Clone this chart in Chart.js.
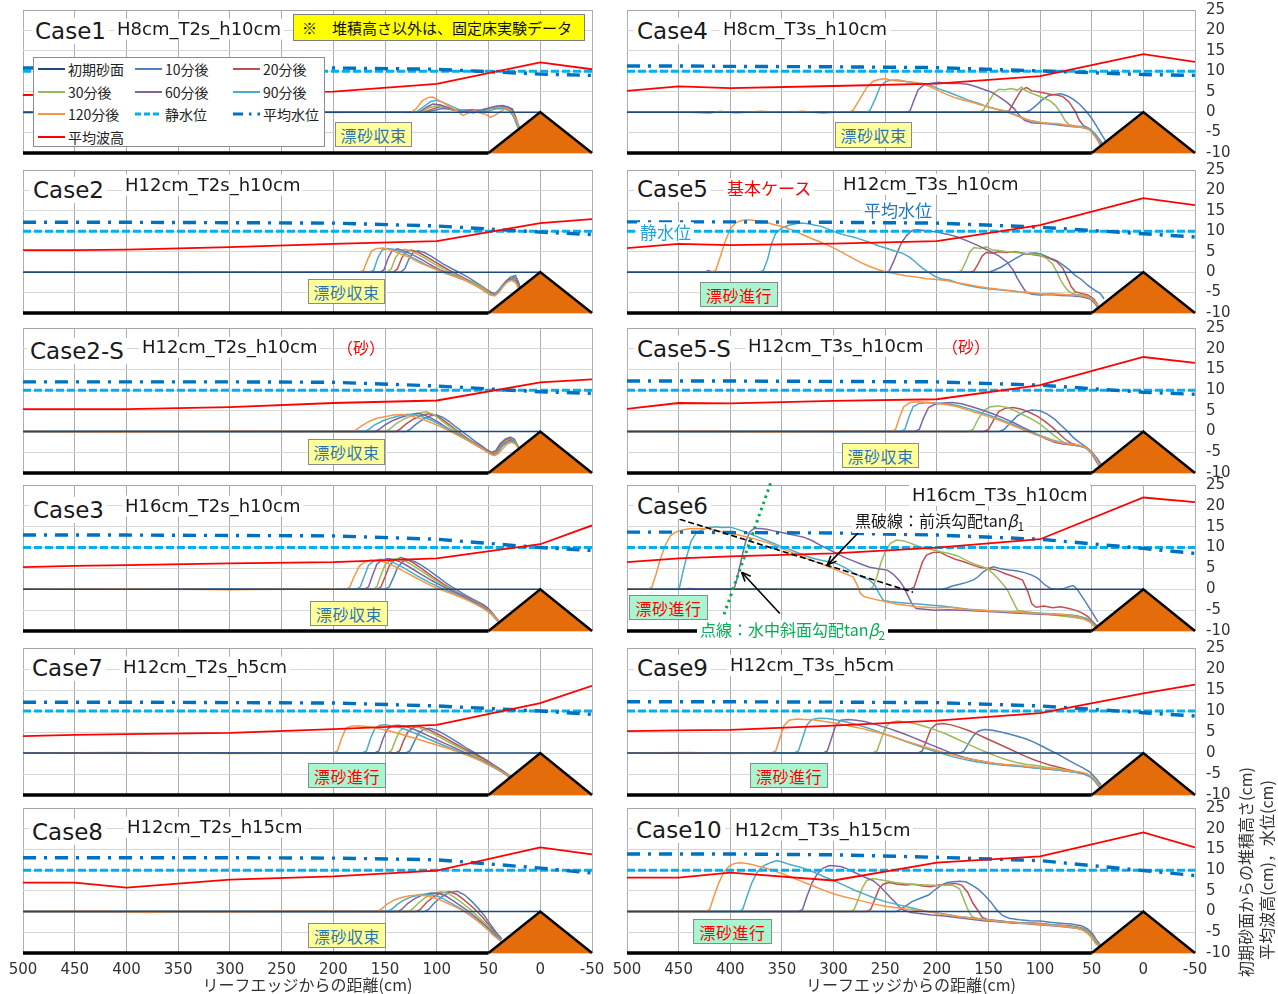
<!DOCTYPE html>
<html>
<head>
<meta charset="utf-8">
<script src="https://cdn.jsdelivr.net/npm/chart.js@4.4.1/dist/chart.umd.min.js"></script>
<style>
  body { margin:0; background:#fff; width:1278px; height:994px; position:relative; overflow:hidden;
         font-family:"DejaVu Sans","Noto Sans CJK JP",sans-serif; }
  canvas { position:absolute; }
  .t { position:absolute; white-space:nowrap; line-height:1.15; transform:translateY(-50%); color:#1a1a1a; }
  .bg { background:#fff; padding:0 3px; }
  .jp { font-family:"Noto Sans CJK JP",sans-serif; }
  .tag { position:absolute; box-sizing:border-box; border:1px solid #8a8a8a; font-family:"Noto Sans CJK JP",sans-serif;
         font-size:16px; display:flex; align-items:center; justify-content:center; letter-spacing:0.5px; }
  .conv { background:#FFFF99; color:#2E75B6; }
  .prog { background:#A9F5CF; color:#FF0000; }
  .legend { position:absolute; left:33px; top:57px; width:292px; height:90px; box-sizing:border-box;
            border:1px solid #8c8c8c; background:#fff; font-family:"Noto Sans CJK JP",sans-serif; font-size:14px; }
  .li { position:absolute; display:flex; align-items:center; transform:translateY(-50%); white-space:nowrap; color:#222; }
  .li svg { margin-right:3px; }
</style>
</head>
<body>
<script>
// ---- measurement stations along the flume (cm from reef edge) ----
const gaugeX = [500, 450, 400, 300, 200, 100, 0, -50];
const stillWater = 10;

// ---- structure ----
const initialSurface = [500, 0, 0, 0];
const fixedBed = [500, -10, 50, -10];
const reefStep = [50, -10, 0, 0, -50, -10];

// ---- series styling keys ----
const sandLabels = ['10分後', '20分後', '30分後', '60分後', '90分後', '120分後'];
const sandColors = ['#4F81BD', '#C0504D', '#9BBB59', '#8064A2', '#4BACC6', '#F79646'];

// ================= Case1 =================
const case1Wave = [4.2, 4.3, 4.5, 4.7, 5.0, 6.9, 12.2, 10.5];
const case1Mwl  = [10.8, 10.8, 10.8, 10.8, 10.8, 10.5, 9.3, 9.0];
const case1_10  = [500,0, 300,0, 110,0, 100,0.6, 95,0.9, 88,0.7, 80,0.4, 72,0.6, 65,0.2, 58,0.5, 50,0.8, 44,1.2, 38,1.4, 32,1.3, 27,0.8, 24,-1, 20,-4, 16,-6];
const case1_20  = [500,0, 112,0, 104,0.8, 96,1.4, 90,1.0, 84,0.6, 76,0.2, 68,0.5, 60,0.1, 52,0.6, 46,1.0, 40,0.9, 34,1.1, 28,0.6, 24,-1.5, 20,-4.2, 16,-6];
const case1_30  = [500,0, 115,0, 108,1.0, 100,1.6, 93,1.3, 86,0.7, 78,0.3, 70,0.6, 62,0.2, 55,0.7, 48,0.9, 41,1.3, 35,1.0, 29,0.4, 25,-1.5, 21,-4, 17,-6];
const case1_60  = [500,0, 117,0, 110,1.2, 104,2.0, 97,1.8, 90,1.2, 82,0.5, 74,0.2, 66,0.6, 58,0.4, 50,1.0, 42,1.5, 36,1.6, 31,1.2, 27,0, 23,-2.5, 19,-5];
const case1_90  = [500,0, 120,0, 112,1.5, 106,2.6, 100,2.9, 94,2.4, 87,1.6, 80,0.8, 73,0.2, 65,-0.2, 57,0.3, 50,0.2, 43,0.8, 36,0.9, 30,0.4, 26,-1, 22,-3.5, 18,-5.5];
const case1_120 = [500,-0.2, 440,0.1, 400,-0.2, 350,0.1, 300,-0.2, 250,0.1, 200,-0.1, 160,0.1, 125,-0.1, 120,0.8, 114,2.8, 108,3.6, 104,3.7, 98,2.9, 92,2.0, 86,1.1, 80,0.3, 75,-0.8, 70,-0.3, 64,0.3, 58,-0.2, 52,-0.6, 48,-1.3, 43,-0.6, 38,0.2, 33,1.0, 28,0.3, 24,-1.5, 20,-3.8, 16,-6];

// ================= Case4 =================
const case4Wave = [5.2, 6.3, 5.9, 6.4, 7.0, 8.8, 14.2, 12.3];
const case4Mwl  = [11.3, 11.3, 11.2, 11.1, 10.9, 10.1, 9.2, 9.0];
const case4_10  = [500,0, 115,0, 110,0.4, 104,1.6, 98,3.0, 92,4.0, 86,4.3, 80,4.5, 74,4.0, 68,3.2, 62,2.0, 56,0.4, 50,-1.5, 44,-4, 38,-6.5, 34,-8];
const case4_20  = [500,0, 135,0, 130,0.3, 124,3, 118,5.5, 113,6.0, 108,5.2, 102,5.0, 96,4.7, 90,4.4, 84,4.2, 78,3.8, 72,2.5, 66,0.2, 62,-2, 58,-3.3, 54,-3.8, 48,-5.2, 44,-7, 40,-9];
const case4_30  = [500,0, 160,0, 155,0.5, 150,2.5, 145,4.5, 140,5.6, 134,5.5, 128,5.8, 122,5.4, 118,6.1, 114,5.3, 108,4.6, 102,4.0, 96,3.4, 90,2.7, 85,1.6, 80,-0.2, 76,-2.0, 72,-3.1, 66,-3.4, 60,-3.6, 54,-3.9, 48,-5.2, 44,-6.8, 40,-8.5];
const case4_60  = [500,0, 230,0, 226,0.3, 222,3, 218,5.5, 212,6.8, 205,7.1, 198,7.3, 190,7.0, 180,7.1, 170,6.8, 162,6.2, 155,5.6, 148,5.0, 140,3.8, 132,2.4, 125,0.8, 120,-0.8, 115,-2.0, 108,-2.6, 100,-2.7, 90,-2.9, 80,-3.2, 70,-3.5, 60,-3.7, 52,-4.2, 46,-6, 40,-8];
const case4_90  = [500,0, 270,0, 265,0.3, 260,3, 255,6.2, 250,7.4, 245,7.8, 238,7.7, 230,7.5, 222,7.2, 214,7.0, 206,6.6, 198,5.7, 190,5.0, 180,4.0, 170,3.0, 160,2.2, 150,1.2, 140,0.6, 132,0.2, 124,-0.6, 116,-1.6, 108,-2.2, 100,-2.6, 90,-2.8, 80,-3.0, 70,-3.4, 60,-3.6, 52,-4.0, 46,-5.5, 40,-7.5, 36,-9];
const case4_120 = [500,0, 440,0, 420,-0.3, 410,0.2, 395,-0.2, 370,0.2, 350,-0.1, 330,0.2, 310,-0.3, 295,0.1, 285,0, 281,0.5, 275,3, 268,6, 262,7.5, 256,8.0, 250,8.2, 245,7.8, 238,7.9, 230,7.5, 222,7.3, 214,6.9, 206,6.2, 198,5.2, 190,4.3, 182,3.5, 174,2.9, 166,2.4, 158,1.8, 150,1.3, 142,0.7, 134,0.2, 126,-0.6, 118,-1.3, 110,-2.0, 100,-2.5, 92,-2.7, 84,-2.8, 76,-3.1, 68,-3.5, 58,-3.8, 52,-4.4, 46,-6.2, 42,-7.8, 38,-9];

// ================= Case2 =================
const case2Wave = [5.4, 5.4, 5.5, 6.1, 6.9, 7.6, 12.0, 13.0];
const case2Mwl  = [12.2, 12.2, 12.2, 12.1, 12.0, 11.3, 9.8, 9.2];
const case2_10  = [500,0, 135,0, 131,0.8, 127,3.2, 123,4.8, 118,5.2, 112,4.8, 106,4.0, 100,3.0, 94,2.0, 88,1.2, 82,0.4, 76,-0.4, 70,-1.2, 64,-2.2, 58,-3.2, 52,-4.2, 47,-5.0, 43,-5.2, 39,-4.0, 34,-2.4, 29,-1.2, 24,-0.8, 21,-2.5, 18,-5];
const case2_20  = [500,0, 142,0, 138,0.8, 134,3.4, 130,5.0, 125,5.4, 119,5.0, 113,4.2, 107,3.3, 101,2.4, 95,1.5, 89,0.6, 83,-0.2, 77,-1.0, 71,-1.8, 65,-2.5, 59,-3.3, 53,-4.2, 48,-5.0, 44,-5.4, 40,-4.6, 35,-3.0, 30,-1.8, 25,-1.3, 21,-3, 18,-5];
const case2_30  = [500,0, 148,0, 144,0.8, 140,3.5, 136,5.0, 131,5.6, 125,5.2, 119,4.4, 113,3.6, 107,2.7, 101,1.8, 95,1.0, 89,0.2, 83,-0.6, 77,-1.2, 71,-2.0, 65,-2.6, 59,-3.3, 53,-4.3, 48,-5.3, 44,-5.5, 40,-4.5, 35,-3.0, 30,-2.0, 25,-1.6, 21,-3.5, 18,-5.5];
const case2_60  = [500,0, 155,0, 151,0.6, 147,3.5, 143,5.3, 138,5.7, 132,5.2, 126,4.6, 120,3.8, 114,3.0, 108,2.1, 102,1.2, 96,0.5, 90,-0.2, 84,-0.8, 78,-1.5, 72,-2.0, 66,-2.8, 60,-3.6, 54,-4.5, 49,-5.4, 45,-5.6, 41,-4.8, 37,-3.4, 32,-2.0, 27,-1.6, 23,-2.4, 20,-4.5];
const case2_90  = [500,0, 165,0, 161,0.5, 157,3.5, 153,5.4, 148,5.8, 142,5.6, 136,5.1, 130,4.5, 124,3.6, 118,2.9, 112,2.0, 106,1.3, 100,0.6, 94,0, 88,-0.5, 82,-1.0, 76,-1.6, 70,-2.2, 64,-3.0, 58,-3.9, 53,-4.8, 48,-5.4, 44,-5.3, 40,-4.4, 36,-3.2, 31,-2.2, 26,-1.8, 22,-3, 19,-5];
const case2_120 = [500,0, 420,0.1, 350,-0.1, 250,0.1, 175,0, 171,0.4, 167,3, 163,5.2, 158,5.8, 152,5.9, 146,5.5, 140,5.0, 134,4.3, 128,3.8, 122,3.0, 116,2.2, 110,1.6, 104,1.0, 98,0.4, 92,-0.3, 86,-0.8, 80,-1.3, 74,-1.8, 68,-2.6, 62,-3.4, 56,-4.2, 52,-5.0, 48,-5.6, 44,-5.8, 40,-5.0, 36,-3.6, 32,-2.5, 28,-2.0, 24,-2.5, 21,-4, 18,-6];

// ================= Case5 =================
const case5Wave = [5.9, 6.9, 6.6, 7.0, 7.6, 11.5, 18.1, 16.4];
const case5Mwl  = [12.3, 12.3, 12.3, 12.2, 12.0, 11.0, 9.4, 8.6];
const case5_10  = [500,0, 150,0, 145,0.4, 138,1.2, 130,2.4, 122,3.6, 116,4.4, 110,4.6, 104,4.7, 98,4.3, 90,3.4, 84,2.8, 78,1.8, 72,0.6, 66,-0.8, 60,-1.8, 54,-3.2, 48,-4.3, 42,-5.2, 38,-6.5];
const case5_20  = [500,0, 168,0, 164,0.3, 160,2.0, 156,4.0, 152,4.8, 146,4.6, 140,5.0, 132,4.8, 124,5.0, 116,4.6, 108,4.3, 100,4.0, 92,3.5, 84,2.6, 78,1.0, 74,-1.2, 70,-3.5, 66,-4.8, 60,-5.2, 54,-5.6, 48,-6.5, 44,-8];
const case5_30  = [500,0, 180,0, 176,0.4, 172,2.5, 168,5.0, 164,6.0, 158,5.8, 152,6.2, 146,5.4, 140,5.3, 132,5.0, 124,4.8, 116,4.6, 108,4.4, 100,4.2, 94,3.4, 88,2.0, 84,0.2, 80,-2.0, 76,-3.6, 72,-4.8, 66,-5.4, 60,-5.6, 54,-6.0, 48,-7.0, 44,-8.5];
const case5_60  = [500,0, 425,0, 421,0.4, 417,0, 300,0.1, 250,0, 246,0.3, 242,2.5, 238,5, 234,7.3, 229,9.0, 224,10.2, 218,10.4, 210,10.1, 200,9.8, 190,9.3, 180,8.6, 170,7.6, 160,6.5, 150,5.3, 140,4.0, 132,2.5, 126,0.5, 122,-1.5, 118,-3.2, 114,-4.8, 108,-5.4, 100,-5.6, 90,-5.5, 80,-5.7, 70,-5.8, 60,-6.0, 52,-6.5, 47,-7.6, 43,-9];
const case5_90  = [500,0, 372,0, 368,0.4, 364,3, 360,7, 356,9.5, 350,10.8, 344,11.4, 338,11.8, 332,12.0, 326,11.9, 320,11.6, 312,11.2, 304,10.4, 296,9.6, 288,9.0, 281,8.6, 272,7.9, 264,7.2, 256,6.4, 248,5.8, 240,5.1, 233,4.6, 226,3.6, 220,2.3, 214,1.0, 208,0, 202,-1.0, 195,-1.7, 187,-2.0, 178,-2.8, 168,-3.4, 158,-3.8, 148,-4.1, 138,-4.4, 128,-4.6, 118,-4.9, 108,-5.2, 98,-5.4, 88,-5.3, 78,-5.6, 68,-5.6, 58,-5.9, 50,-6.5, 46,-7.5, 42,-9];
const case5_120 = [500,0, 430,0, 418,0, 414,0.5, 410,3.5, 405,7.5, 400,10.5, 395,12.0, 390,12.6, 384,12.8, 378,12.7, 372,12.5, 366,12.3, 360,11.8, 352,11.3, 345,10.8, 338,10.1, 330,9.2, 322,8.3, 314,7.5, 306,6.6, 298,5.7, 290,4.6, 282,3.5, 274,2.4, 266,1.5, 258,0.7, 250,0.1, 240,-0.4, 230,-0.9, 220,-1.2, 210,-1.6, 200,-1.8, 190,-2.1, 180,-2.6, 170,-3.0, 160,-3.5, 150,-3.9, 140,-4.2, 130,-4.5, 120,-4.8, 110,-5.0, 100,-5.3, 90,-5.5, 80,-5.4, 70,-5.6, 60,-5.7, 52,-6.2, 48,-7.0, 44,-8.2, 40,-9.5];

// ================= Case2-S =================
const case2sWave = [5.4, 5.4, 5.4, 5.9, 6.9, 7.5, 11.9, 12.6];
const case2sMwl  = [12.0, 12.0, 12.0, 12.0, 11.9, 11.0, 9.6, 9.2];
const case2s_10  = [500,0, 130,0, 126,0.5, 120,1.8, 113,3.0, 106,3.8, 100,4.0, 94,3.4, 88,2.4, 82,1.2, 76,0.1, 70,-1.0, 64,-2.2, 58,-3.2, 52,-4.3, 47,-5.0, 43,-4.6, 39,-3.0, 34,-1.8, 29,-1.3, 25,-1.8, 21,-3.8];
const case2s_20  = [500,0, 140,0, 136,0.5, 130,1.8, 122,3.1, 114,4.0, 107,4.3, 100,3.8, 94,2.8, 88,1.7, 82,0.5, 76,-0.6, 70,-1.7, 64,-2.7, 58,-3.6, 52,-4.6, 47,-5.2, 43,-4.9, 39,-3.4, 34,-2.1, 29,-1.6, 25,-2.2, 21,-4];
const case2s_30  = [500,0, 150,0, 146,0.5, 140,1.8, 132,3.0, 124,3.8, 117,4.5, 110,4.8, 104,4.2, 98,3.2, 92,2.0, 86,0.9, 80,-0.2, 74,-1.3, 68,-2.2, 62,-3.2, 56,-4.1, 50,-5.0, 46,-5.4, 42,-5.0, 38,-3.6, 33,-2.3, 28,-1.8, 24,-2.4, 20,-4.2];
const case2s_60  = [500,0, 160,0, 156,0.5, 150,1.6, 143,2.6, 135,3.4, 127,4.0, 119,4.4, 112,4.0, 105,3.2, 98,2.2, 92,1.2, 86,0.3, 80,-0.6, 74,-1.5, 68,-2.4, 62,-3.3, 56,-4.2, 50,-5.1, 46,-5.6, 42,-5.2, 38,-3.8, 33,-2.6, 28,-2.0, 24,-2.6, 20,-4.3];
const case2s_90  = [500,0, 170,0, 166,0.5, 160,1.6, 152,2.6, 144,3.3, 136,3.8, 128,4.2, 120,4.0, 112,3.4, 104,2.6, 97,1.7, 90,0.8, 84,0, 78,-0.8, 72,-1.7, 66,-2.6, 60,-3.5, 54,-4.4, 49,-5.3, 45,-5.6, 41,-5.0, 37,-3.6, 32,-2.6, 27,-2.3, 23,-3.0, 20,-4.5];
const case2s_120 = [500,0, 400,-0.1, 300,0.1, 200,0, 182,0, 178,0.4, 172,1.5, 165,2.5, 158,3.2, 150,3.6, 142,4.0, 134,4.1, 126,3.8, 118,3.3, 110,2.6, 102,1.8, 95,1.0, 88,0.2, 82,-0.6, 76,-1.4, 70,-2.2, 64,-3.0, 58,-3.8, 52,-4.8, 48,-5.5, 44,-5.8, 40,-5.2, 36,-4.0, 32,-3.0, 28,-2.6, 24,-3.0, 20,-4.5];

// ================= Case5-S =================
const case5sWave = [5.5, 6.9, 6.8, 7.4, 7.8, 11.2, 18.0, 16.6];
const case5sMwl  = [12.2, 12.2, 12.2, 12.1, 12.0, 11.2, 9.5, 9.0];
const case5s_10  = [500,0, 140,0, 135,0.5, 129,2.0, 122,3.8, 115,4.8, 108,5.2, 100,5.0, 93,4.2, 86,3.0, 80,1.6, 74,0.2, 68,-1.4, 62,-2.6, 56,-3.6, 50,-4.8, 45,-6.4, 40,-8.2];
const case5s_20  = [500,0, 155,0, 150,0.5, 145,2.8, 140,4.8, 134,5.6, 126,5.8, 118,5.4, 110,4.6, 102,3.6, 95,2.4, 88,1.0, 82,-0.4, 76,-1.8, 70,-2.8, 63,-3.3, 56,-3.8, 50,-5.0, 46,-6.6, 42,-8.4];
const case5s_30  = [500,0, 170,0, 165,0.5, 160,3.0, 154,5.2, 148,6.0, 140,6.2, 132,5.8, 124,5.0, 116,4.0, 108,3.0, 100,1.8, 94,0.6, 88,-0.6, 82,-1.8, 76,-2.8, 70,-3.2, 62,-3.4, 55,-4.0, 50,-5.2, 46,-6.8, 42,-8.5];
const case5s_60  = [500,0, 222,0, 217,0.5, 213,3.2, 208,5.8, 202,6.6, 194,6.9, 185,7.0, 176,6.7, 166,6.0, 156,5.2, 146,4.3, 136,3.3, 126,2.2, 118,1.2, 110,0.2, 102,-0.8, 94,-1.8, 86,-2.6, 78,-3.0, 70,-3.2, 62,-3.5, 55,-4.0, 50,-5.3, 46,-7, 42,-8.6];
const case5s_90  = [500,0, 236,0, 231,0.5, 227,3.5, 223,6.0, 217,6.8, 209,7.0, 200,6.9, 190,6.7, 180,6.3, 170,5.6, 160,4.8, 150,4.0, 140,3.1, 130,2.1, 120,1.1, 112,0.2, 104,-0.6, 96,-1.3, 88,-2.0, 80,-2.6, 72,-2.9, 64,-3.3, 56,-3.9, 50,-5.2, 46,-6.8, 42,-8.5];
const case5s_120 = [500,0, 420,0.1, 360,-0.1, 300,0.1, 245,0, 240,0.5, 236,3.5, 232,6.0, 226,7.0, 218,7.2, 210,7.0, 200,6.8, 190,6.5, 180,6.0, 170,5.2, 160,4.4, 150,3.6, 140,2.8, 130,1.8, 120,0.8, 112,0, 104,-0.8, 96,-1.5, 88,-2.2, 80,-2.7, 72,-3.0, 64,-3.2, 56,-3.8, 50,-5.0, 46,-6.5, 42,-8.2];

// ================= Case3 =================
const case3Wave = [5.3, 5.6, 5.8, 6.2, 6.5, 7.4, 10.8, 15.3];
const case3Mwl  = [13.0, 13.0, 13.0, 12.9, 12.8, 12.0, 10.0, 9.3];
const case3_10  = [500,0, 150,0, 146,0.6, 142,2.8, 138,5.2, 133,6.6, 127,7.0, 121,6.6, 115,5.8, 109,4.8, 103,3.7, 97,2.6, 91,1.5, 85,0.5, 79,-0.4, 73,-1.3, 67,-2.1, 61,-2.9, 55,-3.7, 50,-4.6, 46,-5.8, 42,-7, 38,-8.4];
const case3_20  = [500,0, 158,0, 154,0.6, 150,3.0, 146,5.6, 141,7.0, 135,7.6, 129,7.2, 123,6.4, 117,5.4, 111,4.3, 105,3.2, 99,2.2, 93,1.2, 87,0.3, 81,-0.6, 75,-1.4, 69,-2.2, 63,-3.0, 57,-3.8, 51,-4.6, 47,-5.6, 43,-6.8, 39,-8];
const case3_30  = [500,0, 162,0, 158,0.6, 154,3.4, 150,5.9, 145,7.0, 139,7.4, 133,7.0, 127,6.3, 121,5.4, 115,4.4, 109,3.4, 103,2.4, 97,1.5, 91,0.6, 85,-0.2, 79,-1.0, 73,-1.8, 67,-2.6, 61,-3.4, 55,-4.2, 50,-5.0, 46,-6, 42,-7.2, 38,-8.4];
const case3_60  = [500,0, 170,0, 166,0.6, 162,3.4, 158,6.0, 153,7.0, 147,7.4, 141,7.1, 135,6.5, 129,5.7, 123,4.8, 117,3.9, 111,3.0, 105,2.1, 99,1.3, 93,0.5, 87,-0.2, 81,-0.9, 75,-1.6, 69,-2.4, 63,-3.2, 57,-4.1, 51,-5.0, 47,-5.9, 43,-7, 39,-8.2];
const case3_90  = [500,0, 178,0, 174,0.6, 170,3.2, 166,5.8, 161,6.8, 155,7.2, 149,7.0, 143,6.5, 137,5.8, 131,5.0, 125,4.1, 119,3.2, 113,2.4, 107,1.6, 101,0.9, 95,0.2, 89,-0.4, 83,-1.0, 77,-1.7, 71,-2.4, 65,-3.2, 59,-4.0, 53,-4.9, 48,-5.8, 44,-6.8, 40,-8];
const case3_120 = [500,0, 400,0.1, 300,-0.1, 200,0.1, 188,0, 184,0.6, 180,3.0, 175,5.5, 170,6.5, 164,7.0, 158,6.9, 152,6.6, 146,6.1, 140,5.4, 134,4.6, 128,3.8, 122,3.0, 116,2.2, 110,1.4, 104,0.7, 98,0.1, 92,-0.5, 86,-1.0, 80,-1.6, 74,-2.2, 68,-2.9, 62,-3.6, 56,-4.4, 50,-5.4, 46,-6.2, 42,-7.2, 38,-8.2];

// ================= Case6 =================
const case6Wave = [6.5, 7.4, 7.9, 8.6, 10.0, 12.0, 22.0, 20.9];
const case6Mwl  = [13.7, 13.7, 13.6, 13.5, 13.0, 12.0, 9.8, 8.6];
const case6_10  = [500,0, 195,0, 190,0.3, 185,0.8, 178,1.2, 172,1.6, 165,2.2, 160,3.0, 155,4.2, 150,5.0, 145,5.4, 138,4.9, 130,4.6, 122,4.4, 115,4.0, 108,3.4, 102,2.6, 96,1.2, 90,0.2, 84,0.0, 78,0.1, 72,0.6, 68,0.9, 64,0.0, 60,-1.5, 56,-3.0, 52,-4.6, 48,-6.2, 44,-7.8];
const case6_20  = [500,0, 226,0, 222,0.5, 218,3.5, 214,6.5, 210,8.2, 204,8.8, 197,8.9, 190,8.0, 182,7.2, 174,6.6, 165,5.8, 158,5.2, 150,5.0, 142,4.6, 134,3.8, 125,3.0, 117,2.2, 112,-0.5, 108,-3.5, 104,-4.3, 96,-4.0, 88,-4.4, 80,-4.2, 72,-4.6, 66,-5.0, 60,-5.6, 54,-6.5, 48,-8, 44,-9];
const case6_30  = [500,0, 266,0, 262,0.5, 258,3.0, 254,6.5, 250,9.0, 245,11.0, 239,11.8, 232,11.6, 225,11.0, 218,10.3, 210,9.8, 203,9.4, 196,9.0, 188,8.6, 180,8.0, 172,7.0, 165,6.2, 158,5.6, 150,4.8, 142,2.9, 136,1.2, 132,0, 128,-2.0, 122,-5.0, 115,-5.3, 105,-5.6, 95,-5.9, 85,-6.2, 75,-6.5, 65,-6.8, 57,-7.2, 52,-7.8, 47,-9];
const case6_60  = [500,0, 450,0, 440,0.2, 420,0, 400,0.1, 396,0.4, 393,3.0, 389,7.5, 385,11.5, 381,13.8, 377,14.6, 371,14.6, 365,14.4, 358,14.0, 350,13.6, 342,13.2, 335,12.8, 329,12.5, 321,11.7, 313,10.6, 305,9.6, 297,8.6, 289,7.6, 281,6.8, 273,6.0, 265,5.3, 257,4.9, 248,4.6, 242,3.6, 236,2.0, 232,0.5, 228,-1.5, 224,-3.5, 220,-4.6, 212,-4.8, 202,-5.0, 190,-4.9, 175,-5.0, 160,-5.2, 145,-5.4, 130,-5.6, 115,-5.8, 100,-6.0, 85,-6.1, 70,-6.3, 58,-6.8, 50,-7.8, 46,-9];
const case6_90  = [500,0, 452,0, 449,0.6, 446,4.0, 442,8.0, 438,11.5, 433,13.5, 427,14.3, 420,14.8, 414,15.0, 408,14.8, 400,14.9, 392,14.3, 384,13.6, 376,12.8, 368,12.0, 360,11.2, 352,10.4, 345,9.8, 337,9.0, 329,8.2, 321,7.5, 313,7.0, 305,6.6, 297,6.2, 289,5.2, 281,4.0, 273,3.0, 265,2.2, 260,1.0, 256,-1.0, 252,-2.6, 245,-3.0, 235,-3.2, 225,-3.4, 215,-3.6, 205,-3.8, 195,-4.0, 185,-4.3, 170,-4.8, 155,-5.0, 140,-5.3, 125,-5.4, 110,-5.6, 95,-5.8, 80,-6.0, 65,-6.3, 55,-7.0, 48,-8.2, 44,-9.2];
const case6_120 = [500,0, 480,0, 476,0.5, 472,3.5, 468,7.0, 463,10.5, 458,12.8, 452,13.8, 446,14.2, 440,14.5, 434,14.6, 428,14.5, 423,14.7, 416,14.2, 408,13.8, 400,13.4, 392,13.0, 385,12.6, 378,12.2, 370,11.6, 362,11.0, 354,10.2, 346,9.4, 338,8.6, 330,7.8, 322,7.0, 313,6.2, 305,5.4, 297,4.6, 289,3.8, 281,2.9, 277,1.0, 274,-1.0, 270,-1.8, 262,-2.3, 255,-2.7, 249,-3.0, 240,-3.5, 230,-3.8, 220,-4.2, 210,-4.3, 200,-4.4, 187,-4.3, 175,-4.7, 160,-5.0, 145,-5.2, 130,-5.4, 115,-5.6, 100,-5.8, 85,-6.0, 70,-6.2, 60,-6.8, 52,-7.8, 46,-9];

// ================= Case7 =================
const case7Wave = [4.0, 4.3, 4.5, 4.8, 5.7, 6.7, 11.9, 16.0];
const case7Mwl  = [12.1, 12.1, 12.1, 12.0, 11.9, 11.2, 10.0, 9.2];
const case7_10  = [500,0, 130,0, 126,0.5, 122,2.6, 118,4.6, 113,5.6, 107,5.9, 100,5.4, 93,4.5, 86,3.5, 79,2.4, 72,1.3, 65,0.3, 58,-0.8, 51,-1.8, 45,-2.8, 39,-3.8, 33,-4.8, 28,-5.6];
const case7_20  = [500,0, 140,0, 136,0.5, 132,3.0, 128,5.0, 123,6.0, 117,6.3, 110,5.8, 103,5.0, 96,4.1, 89,3.2, 82,2.2, 75,1.2, 68,0.3, 61,-0.6, 54,-1.6, 48,-2.6, 42,-3.6, 36,-4.6, 31,-5.5];
const case7_30  = [500,0, 148,0, 144,0.5, 140,3.0, 136,5.2, 131,6.2, 125,6.5, 118,6.1, 111,5.4, 104,4.6, 97,3.7, 90,2.8, 83,1.9, 76,1.0, 69,0.1, 62,-0.8, 55,-1.7, 49,-2.6, 43,-3.5, 37,-4.5, 32,-5.4, 28,-6];
const case7_60  = [500,0, 160,0, 156,0.5, 152,3.4, 148,5.6, 143,6.5, 137,6.6, 130,6.3, 123,5.7, 116,5.0, 109,4.2, 102,3.4, 95,2.6, 88,1.8, 81,1.0, 74,0.2, 67,-0.6, 60,-1.4, 53,-2.2, 47,-3.0, 41,-3.9, 35,-4.8, 30,-5.6];
const case7_90  = [500,0, 172,0, 168,0.5, 164,3.5, 160,5.8, 155,6.6, 149,6.7, 142,6.4, 135,6.0, 128,5.4, 121,4.7, 114,4.0, 107,3.2, 100,2.5, 93,1.8, 86,1.1, 79,0.4, 72,-0.3, 65,-1.0, 58,-1.8, 51,-2.7, 45,-3.5, 39,-4.3, 33,-5.1, 28,-5.8];
const case7_120 = [500,0, 400,0.1, 300,-0.1, 200,0, 196,0.5, 192,3.5, 188,5.8, 183,6.4, 176,6.5, 168,6.3, 160,6.0, 152,5.6, 144,5.1, 136,4.6, 128,4.0, 120,3.4, 112,2.8, 104,2.2, 96,1.6, 88,1.0, 80,0.3, 72,-0.4, 64,-1.2, 56,-2.0, 48,-3.0, 42,-3.8, 36,-4.6, 30,-5.4, 26,-6];

// ================= Case9 =================
const case9Wave = [5.2, 5.4, 5.5, 6.5, 7.7, 9.5, 14.2, 16.3];
const case9Mwl  = [12.2, 12.2, 12.2, 12.1, 12.0, 11.2, 9.6, 8.8];
const case9_10  = [500,0, 178,0, 174,0.4, 170,2.0, 165,4.0, 160,5.2, 154,5.6, 146,5.4, 138,5.0, 130,4.5, 122,4.0, 114,3.4, 106,2.6, 98,1.6, 90,0.6, 82,-0.4, 74,-1.5, 66,-2.6, 58,-3.6, 52,-4.5, 46,-6, 41,-7.6];
const case9_20  = [500,0, 218,0, 214,0.5, 210,3.0, 206,5.6, 201,6.8, 194,7.0, 186,6.7, 178,6.1, 170,5.4, 162,4.6, 154,3.7, 146,2.8, 138,1.9, 130,1.0, 122,0.1, 114,-0.8, 106,-1.6, 98,-2.3, 90,-2.9, 82,-3.4, 74,-3.9, 66,-4.4, 58,-4.9, 52,-5.5, 47,-6.6, 43,-8];
const case9_30  = [500,0, 262,0, 258,0.5, 254,3.2, 250,6.0, 245,7.3, 238,7.6, 230,7.4, 222,7.0, 214,6.5, 206,5.9, 198,5.2, 190,4.4, 182,3.5, 174,2.6, 166,1.7, 158,0.8, 150,0, 142,-0.8, 134,-1.5, 124,-2.2, 114,-2.7, 104,-3.0, 94,-3.4, 84,-3.7, 74,-4.1, 64,-4.5, 56,-5.0, 50,-5.8, 45,-7, 41,-8.4];
const case9_60  = [500,0, 310,0, 306,0.5, 302,3.5, 298,6.5, 293,7.8, 286,8.0, 278,7.8, 270,7.5, 262,7.0, 254,6.4, 246,5.8, 238,5.1, 230,4.4, 222,3.6, 214,2.8, 206,2.0, 198,1.2, 190,0.4, 182,-0.4, 174,-1.0, 164,-1.6, 154,-2.1, 144,-2.5, 134,-2.8, 124,-3.0, 114,-3.3, 104,-3.5, 94,-3.8, 84,-4.0, 74,-4.3, 64,-4.6, 56,-5.0, 50,-5.8, 45,-7, 41,-8.4];
const case9_90  = [500,0, 338,0, 334,0.5, 330,3.5, 326,6.6, 321,8.0, 314,8.3, 306,8.2, 298,7.9, 290,7.5, 282,7.0, 274,6.5, 266,5.9, 258,5.2, 250,4.5, 242,3.8, 234,3.1, 226,2.4, 218,1.7, 210,1.0, 202,0.4, 194,-0.2, 186,-0.8, 176,-1.4, 166,-1.9, 156,-2.3, 146,-2.6, 136,-2.9, 126,-3.1, 116,-3.3, 106,-3.6, 96,-3.8, 86,-4.0, 76,-4.3, 66,-4.6, 58,-5.0, 52,-5.6, 47,-6.6, 43,-8];
const case9_120 = [500,0, 440,0.1, 400,-0.1, 360,0, 356,0.5, 352,3.5, 348,6.5, 343,7.8, 336,8.1, 328,8.0, 320,7.9, 312,7.6, 304,7.3, 296,7.0, 288,6.6, 280,6.2, 272,5.8, 264,5.3, 256,4.8, 248,4.3, 240,3.7, 232,3.0, 224,2.4, 216,1.8, 208,1.2, 200,0.6, 192,0, 184,-0.5, 176,-1.0, 168,-1.4, 160,-1.8, 150,-2.2, 140,-2.6, 130,-2.8, 120,-3.0, 110,-3.3, 100,-3.5, 90,-3.7, 80,-4.0, 70,-4.3, 60,-4.6, 54,-5.0, 48,-6, 44,-7.2, 40,-8.5];

// ================= Case8 =================
const case8Wave = [7.0, 7.0, 5.8, 7.7, 8.5, 9.9, 15.5, 13.8];
const case8Mwl  = [13.0, 13.0, 13.0, 13.0, 12.9, 12.5, 10.5, 9.3];
const case8_10  = [500,0, 112,0, 108,0.5, 102,2.2, 95,3.6, 88,4.6, 80,4.9, 73,4.0, 66,2.4, 60,0.8, 54,-1.0, 49,-2.8, 45,-4.2, 41,-5.5, 37,-6.6];
const case8_20  = [500,0, 120,0, 116,0.5, 110,2.2, 103,3.6, 96,4.5, 88,4.8, 81,4.2, 74,2.9, 67,1.4, 61,0, 55,-1.6, 50,-3.1, 46,-4.4, 42,-5.6, 38,-6.8];
const case8_30  = [500,0, 128,0, 124,0.5, 118,2.0, 111,3.4, 104,4.3, 96,4.8, 89,4.4, 82,3.3, 75,2.0, 68,0.6, 62,-0.8, 56,-2.2, 50,-3.6, 46,-4.8, 42,-5.8, 38,-6.8];
const case8_60  = [500,0, 138,0, 134,0.5, 128,2.0, 121,3.2, 114,4.0, 106,4.5, 98,4.4, 91,3.7, 84,2.6, 77,1.4, 70,0.2, 64,-1.0, 58,-2.3, 52,-3.6, 47,-4.8, 43,-5.8, 39,-6.8];
const case8_90  = [500,0, 148,0, 144,0.5, 138,1.8, 131,2.9, 124,3.6, 116,4.1, 108,4.2, 100,3.8, 93,3.0, 86,2.0, 79,1.0, 72,0, 66,-1.1, 60,-2.3, 54,-3.5, 49,-4.6, 45,-5.6, 41,-6.4, 37,-7.4];
const case8_120 = [500,0, 420,0.1, 380,-0.2, 340,0.1, 300,-0.1, 250,0.1, 200,0.1, 158,0, 154,0.5, 148,1.8, 141,2.8, 134,3.4, 126,3.8, 118,4.0, 110,3.8, 102,3.3, 95,2.6, 88,1.8, 81,1.0, 74,0.1, 68,-0.9, 62,-2.0, 56,-3.2, 51,-4.4, 47,-5.4, 43,-6.2, 39,-7];

// ================= Case10 =================
const case10Wave = [8.2, 8.2, 9.4, 7.5, 11.8, 13.3, 19.1, 15.5];
const case10Mwl  = [13.9, 13.9, 13.9, 13.7, 13.1, 12.3, 9.9, 8.7];
const case10_10  = [500,0, 240,0, 236,0.4, 230,1.4, 224,2.4, 216,3.2, 208,4.0, 202,5.2, 196,6.3, 190,7.0, 184,7.2, 178,7.3, 172,7.2, 166,6.4, 160,5.4, 154,4.0, 148,2.4, 142,0.4, 136,-1.0, 130,-1.6, 120,-2.0, 110,-2.2, 100,-2.3, 90,-2.6, 80,-2.8, 70,-3.0, 60,-3.4, 54,-4.2, 49,-5.4, 45,-7.0, 41,-8.2];
const case10_20  = [500,0, 268,0, 264,0.5, 260,3.0, 256,5.5, 252,6.6, 246,7.0, 238,6.6, 230,6.4, 222,6.6, 214,6.2, 206,6.0, 198,6.4, 190,6.6, 182,6.8, 176,6.4, 170,4.6, 165,2.0, 160,0.2, 156,-1.4, 150,-2.0, 140,-2.2, 130,-2.5, 120,-2.7, 110,-2.7, 100,-2.9, 90,-3.1, 80,-3.3, 70,-3.5, 60,-3.9, 54,-4.6, 49,-5.8, 45,-7.2, 41,-8.3];
const case10_30  = [500,0, 284,0, 280,0.5, 276,3.0, 272,5.8, 268,7.5, 262,8.0, 255,7.7, 248,7.4, 240,7.0, 232,6.8, 224,6.6, 216,6.5, 208,6.4, 200,6.3, 192,6.4, 184,6.3, 178,5.5, 174,3.0, 170,0.5, 166,-1.2, 160,-1.8, 150,-2.1, 140,-2.4, 130,-2.6, 120,-2.7, 110,-2.8, 100,-3.0, 90,-3.2, 80,-3.4, 70,-3.6, 60,-4.0, 54,-4.7, 49,-6.0, 45,-7.4, 41,-8.4];
const case10_60  = [500,0, 334,0, 330,0.5, 326,3.5, 321,6.8, 316,9.0, 310,10.5, 304,11.1, 298,11.0, 292,10.8, 286,10.2, 280,9.5, 274,8.8, 268,8.1, 262,7.5, 256,6.3, 250,4.8, 245,3.4, 240,2.2, 236,1.0, 232,0.3, 225,-0.2, 215,-0.5, 205,-0.8, 195,-1.0, 185,-1.3, 175,-1.6, 165,-1.9, 155,-2.2, 145,-2.4, 135,-2.6, 125,-2.8, 115,-2.9, 105,-3.1, 95,-3.3, 85,-3.5, 75,-3.7, 65,-4.0, 58,-4.5, 52,-5.6, 47,-7.2, 43,-8.4];
const case10_90  = [500,0, 392,0, 388,0.5, 384,3.5, 379,7.0, 374,9.5, 368,11.0, 361,11.8, 355,12.3, 349,11.9, 343,11.4, 337,11.0, 332,10.7, 324,10.0, 316,9.2, 308,8.3, 300,7.5, 290,6.4, 280,5.2, 270,4.2, 260,3.2, 250,2.4, 240,1.8, 230,1.2, 220,0.6, 210,0.1, 200,-0.3, 190,-0.7, 180,-1.1, 170,-1.4, 160,-1.7, 150,-2.0, 140,-2.3, 130,-2.5, 120,-2.7, 110,-2.8, 100,-3.0, 90,-3.2, 80,-3.4, 70,-3.7, 60,-4.2, 55,-4.8, 50,-6.0, 46,-7.5, 42,-8.4];
const case10_120 = [500,0, 425,0, 420,0.5, 416,3.5, 411,7.0, 406,9.6, 401,11.0, 396,11.6, 390,11.8, 384,11.6, 378,11.3, 372,10.9, 364,10.4, 356,9.7, 348,9.0, 340,8.2, 332,7.4, 324,6.6, 316,5.8, 308,5.0, 300,4.3, 290,3.6, 280,3.0, 270,2.4, 260,1.8, 250,1.3, 240,1.0, 230,0.6, 220,0.3, 210,0, 200,-0.4, 190,-0.8, 180,-1.2, 170,-1.5, 160,-1.8, 150,-2.1, 140,-2.4, 130,-2.6, 120,-2.8, 110,-2.9, 100,-3.1, 90,-3.3, 80,-3.5, 70,-3.8, 60,-4.3, 55,-5.0, 50,-6.3, 46,-7.8, 42,-8.6];

// ---- Case6 slope guides (x cm, y cm) ----
const foreshoreGuide = [449, 16.8, 223, -0.7];
const underwaterGuide = [361, 25.4, 407, -6.7];
const foreshoreArrow = [274, 14.1, 306, 5.8];
const underwaterArrow = [352, -5.8, 389, 4.1];

// ---- panel layout ----
const rowTop = [10, 170, 328, 485, 648, 808];
const rowH   = [143, 143, 145, 146, 147, 145];

const panels = [
  { col:0, row:0, wave:case1Wave,  mwl:case1Mwl,  sand:[case1_10, case1_20, case1_30, case1_60, case1_90, case1_120] },
  { col:1, row:0, wave:case4Wave,  mwl:case4Mwl,  sand:[case4_10, case4_20, case4_30, case4_60, case4_90, case4_120] },
  { col:0, row:1, wave:case2Wave,  mwl:case2Mwl,  sand:[case2_10, case2_20, case2_30, case2_60, case2_90, case2_120] },
  { col:1, row:1, wave:case5Wave,  mwl:case5Mwl,  sand:[case5_10, case5_20, case5_30, case5_60, case5_90, case5_120] },
  { col:0, row:2, wave:case2sWave, mwl:case2sMwl, sand:[case2s_10, case2s_20, case2s_30, case2s_60, case2s_90, case2s_120] },
  { col:1, row:2, wave:case5sWave, mwl:case5sMwl, sand:[case5s_10, case5s_20, case5s_30, case5s_60, case5s_90, case5s_120] },
  { col:0, row:3, wave:case3Wave,  mwl:case3Mwl,  sand:[case3_10, case3_20, case3_30, case3_60, case3_90, case3_120] },
  { col:1, row:3, wave:case6Wave,  mwl:case6Mwl,  sand:[case6_10, case6_20, case6_30, case6_60, case6_90, case6_120], guides:true },
  { col:0, row:4, wave:case7Wave,  mwl:case7Mwl,  sand:[case7_10, case7_20, case7_30, case7_60, case7_90, case7_120] },
  { col:1, row:4, wave:case9Wave,  mwl:case9Mwl,  sand:[case9_10, case9_20, case9_30, case9_60, case9_90, case9_120] },
  { col:0, row:5, wave:case8Wave,  mwl:case8Mwl,  sand:[case8_10, case8_20, case8_30, case8_60, case8_90, case8_120] },
  { col:1, row:5, wave:case10Wave, mwl:case10Mwl, sand:[case10_10, case10_20, case10_30, case10_60, case10_90, case10_120] }
];

const LATIN = "'DejaVu Sans','Noto Sans CJK JP',sans-serif";
const JP = "'Noto Sans CJK JP',sans-serif";

function pts(flat) {
  const out = [];
  for (let i = 0; i < flat.length; i += 2) out.push({ x: flat[i], y: flat[i + 1] });
  return out;
}
function gauge(vals) { return vals.map((v, i) => ({ x: gaugeX[i], y: v })); }
function line(data, color, width, order, extra) {
  return Object.assign({ data, borderColor: color, backgroundColor: color, borderWidth: width,
    pointRadius: 0, tension: 0, fill: false, order }, extra || {});
}

// arrows for the Case6 slope notes
const arrowPlugin = {
  id: 'slopeArrows',
  afterDatasetsDraw(chart) {
    if (!chart.options.plugins.slopeArrows) return;
    const { ctx, scales: { x, y } } = chart;
    [foreshoreArrow, underwaterArrow].forEach(a => {
      const x0 = x.getPixelForValue(a[0]), y0 = y.getPixelForValue(a[1]);
      const x1 = x.getPixelForValue(a[2]), y1 = y.getPixelForValue(a[3]);
      const ang = Math.atan2(y1 - y0, x1 - x0);
      ctx.save();
      ctx.strokeStyle = '#000'; ctx.fillStyle = '#000'; ctx.lineWidth = 1.6;
      ctx.beginPath(); ctx.moveTo(x0, y0); ctx.lineTo(x1, y1); ctx.stroke();
      ctx.beginPath();
      ctx.moveTo(x1, y1);
      ctx.lineTo(x1 - 10 * Math.cos(ang - 0.4), y1 - 10 * Math.sin(ang - 0.4));
      ctx.moveTo(x1, y1);
      ctx.lineTo(x1 - 10 * Math.cos(ang + 0.4), y1 - 10 * Math.sin(ang + 0.4));
      ctx.stroke();
      ctx.restore();
    });
  }
};

function makePanel(p) {
  const right = p.col === 1, bottom = p.row === 5;
  const plotL = right ? 627 : 23, plotW = right ? 568 : 569;
  const plotT = rowTop[p.row], plotH = rowH[p.row];
  const padL = 28, padR = right ? 0 : 26, padT = 26, padB = bottom ? 2 : 26;
  const axisW = right ? 50 : 0, axisH = bottom ? 42 : 0;
  const W = padL + plotW + axisW + padR, H = padT + plotH + axisH + padB;
  const cv = document.createElement('canvas');
  cv.width = W; cv.height = H;
  cv.style.left = (plotL - padL) + 'px'; cv.style.top = (plotT - padT) + 'px';
  cv.style.width = W + 'px'; cv.style.height = H + 'px';
  document.body.appendChild(cv);

  const datasets = [
    line(pts(reefStep), '#000', 2.5, 0, { fill: 'start', backgroundColor: '#E46C0A', clip: false }),
    line(pts(fixedBed), '#000', 3.5, 1, { clip: false }),
    line(gauge(p.wave), '#FF0000', 1.8, 3),
    line(gauge(p.mwl), '#0070C0', 3.4, 4, { borderDash: [13, 8, 3, 8] }),
    line([{ x: 500, y: stillWater }, { x: -50, y: stillWater }], '#00B0F0', 3, 5, { borderDash: [8, 3] }),
    line(pts(initialSurface), '#1F497D', 1.5, 6)
  ];
  p.sand.forEach((s, i) => datasets.push(line(pts(s), sandColors[i], 1.5, 12 - i)));
  if (p.guides) {
    datasets.push(line(pts(foreshoreGuide), '#000', 1.6, 2, { borderDash: [6, 3], clip: false }));
    datasets.push(line(pts(underwaterGuide), '#00B050', 3, 2, { borderDash: [2.5, 4], clip: false }));
  }

  new Chart(cv, {
    type: 'line',
    data: { datasets },
    plugins: [arrowPlugin],
    options: {
      responsive: false, animation: false, devicePixelRatio: 1,
      layout: { padding: { left: padL, right: padR, top: padT, bottom: padB } },
      plugins: { legend: { display: false }, tooltip: { enabled: false }, slopeArrows: !!p.guides },
      scales: {
        x: {
          type: 'linear', min: -50, max: 500, reverse: true,
          afterFit: s => { s.height = axisH; },
          grid: { color: '#ADADAD', drawTicks: false },
          border: { display: false },
          ticks: { display: bottom, stepSize: 50, autoSkip: false, maxRotation: 0, padding: 8,
                   color: '#333', font: { size: 15, family: LATIN } },
          title: { display: bottom, text: 'リーフエッジからの距離(cm)', color: '#333',
                   font: { size: 16, family: JP }, padding: { top: 0, bottom: 0 } }
        },
        y: {
          type: 'linear', min: -10, max: 25, position: 'right',
          afterFit: s => { s.width = axisW; },
          grid: { color: c => (c.tick && c.tick.value === 25) ? '#A6A6A6' : '#D6D6D6', drawTicks: false },
          border: { display: false },
          ticks: { display: right, stepSize: 5, autoSkip: false, padding: 11, color: '#333',
                   font: { size: 15, family: LATIN } }
        }
      }
    }
  });
}
panels.forEach(makePanel);

// ---- text overlays ----
function addText(html, x, y, size, opts) {
  const d = document.createElement('div');
  d.className = 't' + (opts && opts.bg === false ? '' : ' bg') + (opts && opts.jp ? ' jp' : '');
  d.style.left = x + 'px'; d.style.top = y + 'px'; d.style.fontSize = size + 'px';
  if (opts && opts.color) d.style.color = opts.color;
  d.innerHTML = html;
  document.body.appendChild(d);
  return d;
}
function addTag(text, kind, x, y, w, h) {
  const d = document.createElement('div');
  d.className = 'tag ' + kind;
  Object.assign(d.style, { left: x + 'px', top: y + 'px', width: w + 'px', height: h + 'px' });
  d.textContent = text;
  document.body.appendChild(d);
}

const caseTitles = [
  ['Case1', 32, 31, 'H8cm_T2s_h10cm', 114, 29],
  ['Case4', 634, 31, 'H8cm_T3s_h10cm', 720, 29],
  ['Case2', 30, 190, 'H12cm_T2s_h10cm', 122, 185],
  ['Case5', 634, 189, 'H12cm_T3s_h10cm', 840, 184],
  ['Case2-S', 27, 351, 'H12cm_T2s_h10cm', 139, 347],
  ['Case5-S', 634, 349, 'H12cm_T3s_h10cm', 745, 346],
  ['Case3', 30, 510, 'H16cm_T2s_h10cm', 122, 506],
  ['Case6', 634, 506, 'H16cm_T3s_h10cm', 909, 495],
  ['Case7', 29, 668, 'H12cm_T2s_h5cm', 120, 667],
  ['Case9', 634, 668, 'H12cm_T3s_h5cm', 727, 665],
  ['Case8', 29, 832, 'H12cm_T2s_h15cm', 124, 827],
  ['Case10', 633, 830, 'H12cm_T3s_h15cm', 732, 830]
];
caseTitles.forEach(t => {
  addText(t[0], t[1], t[2], 23);
  addText(t[3], t[4], t[5], 18);
});

addText('基本ケース', 724, 188, 17, { jp: true, color: '#FF0000' });
addText('（砂）', 337, 347, 16, { jp: true, color: '#FF0000', bg: false });
addText('（砂）', 942, 346, 16, { jp: true, color: '#FF0000', bg: false });
addText('平均水位', 861, 210, 17, { jp: true, color: '#1F7AC4' });
addText('静水位', 637, 232, 17, { jp: true, color: '#1FA3DD' });
addText('黒破線：前浜勾配tan<i>β</i><sub style="font-size:12px">1</sub>', 852, 522, 16, { jp: true });
addText('点線：水中斜面勾配tan<i>β</i><sub style="font-size:12px">2</sub>', 697, 631, 16, { jp: true, color: '#00B050' });

// note box in Case1
const note = document.createElement('div');
Object.assign(note.style, { position: 'absolute', left: '293px', top: '14px', width: '292px', height: '27px',
  boxSizing: 'border-box', background: '#FFFF00', border: '1px solid #7f7f7f', fontFamily: JP, fontSize: '15px',
  display: 'flex', alignItems: 'center', paddingLeft: '8px', color: '#111', whiteSpace: 'nowrap' });
note.textContent = '※　堆積高さ以外は、固定床実験データ';
document.body.appendChild(note);

// transport tags
addTag('漂砂収束', 'conv', 335, 122, 77, 25);
addTag('漂砂収束', 'conv', 835, 122, 77, 26);
addTag('漂砂収束', 'conv', 308, 279, 77, 25);
addTag('漂砂進行', 'prog', 700, 282, 78, 25);
addTag('漂砂収束', 'conv', 308, 439, 77, 26);
addTag('漂砂収束', 'conv', 842, 443, 77, 25);
addTag('漂砂収束', 'conv', 310, 601, 78, 25);
addTag('漂砂進行', 'prog', 629, 595, 79, 25);
addTag('漂砂進行', 'prog', 308, 763, 78, 25);
addTag('漂砂進行', 'prog', 750, 763, 78, 25);
addTag('漂砂収束', 'conv', 308, 923, 78, 25);
addTag('漂砂進行', 'prog', 693, 919, 79, 25);

// legend (Case1 panel)
const legendItems = [
  ['初期砂面', '#1F497D', ''], [sandLabels[0], sandColors[0], ''], [sandLabels[1], sandColors[1], ''],
  [sandLabels[2], sandColors[2], ''], [sandLabels[3], sandColors[3], ''], [sandLabels[4], sandColors[4], ''],
  [sandLabels[5], sandColors[5], ''], ['静水位', '#00B0F0', '6 3'], ['平均水位', '#0070C0', '10 6 2.5 6'],
  ['平均波高', '#FF0000', '']
];
const lg = document.createElement('div');
lg.className = 'legend';
document.body.appendChild(lg);
const colX = [4, 101, 199], rowY = [11, 34, 56, 79];
legendItems.forEach((it, i) => {
  const d = document.createElement('div');
  d.className = 'li';
  d.style.left = colX[i % 3] + 'px'; d.style.top = rowY[Math.floor(i / 3)] + 'px';
  const w = it[2] ? 3 : 2;
  d.innerHTML = '<svg width="27" height="6"><line x1="0" y1="3" x2="27" y2="3" stroke="' + it[1] +
    '" stroke-width="' + w + '"' + (it[2] ? ' stroke-dasharray="' + it[2] + '"' : '') + '/></svg>' + it[0];
  lg.appendChild(d);
});

// right-hand axis title
function vText(text, cx, cy) {
  const d = document.createElement('div');
  Object.assign(d.style, { position: 'absolute', left: cx + 'px', top: cy + 'px', whiteSpace: 'nowrap',
    fontFamily: JP, fontSize: '16px', color: '#333', lineHeight: '1',
    transform: 'translate(-50%,-50%) rotate(-90deg)' });
  d.textContent = text;
  document.body.appendChild(d);
}
vText('初期砂面からの堆積高さ(cm)', 1245, 872);
vText('平均波高(cm)，水位(cm)', 1266, 870);
</script>
</body>
</html>
